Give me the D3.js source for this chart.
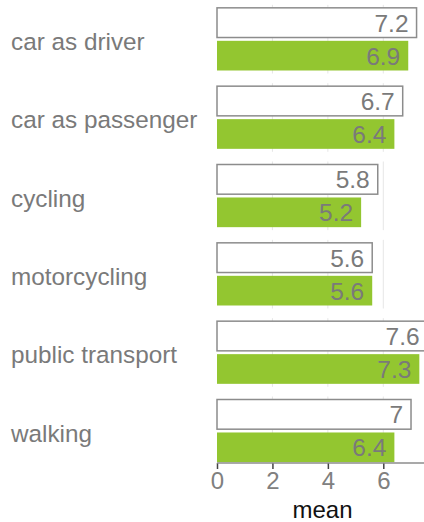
<!DOCTYPE html>
<html>
<head>
<meta charset="utf-8">
<script src="https://cdn.jsdelivr.net/npm/d3@7"></script>
<style>
  body { margin: 0; background: #fff; }
  svg { display: block; font-family: "Liberation Sans", Arial, sans-serif; }
</style>
</head>
<body>
<div id="chart"></div>
<script>
// modes of transport and the two series of means
var categories = ["car as driver", "car as passenger", "cycling", "motorcycling", "public transport", "walking"];
var seriesA = [7.2, 6.7, 5.8, 5.6, 7.6, 7.0];   // white bars (top)
var seriesB = [6.9, 6.4, 5.2, 5.6, 7.3, 6.4];   // green bars (bottom)
var labelsA = ["7.2", "6.7", "5.8", "5.6", "7.6", "7"];
var labelsB = ["6.9", "6.4", "5.2", "5.6", "7.3", "6.4"];
var xTicks = [0, 2, 4, 6];
var axisTitle = "mean";

var width = 424, height = 522;

var svg = d3.select("#chart").append("svg")
    .attr("width", width)
    .attr("height", height);

var x = d3.scaleLinear().domain([0, 6]).range([217, 383.3]);
var y = d3.scaleBand().domain(categories).range([0, 470])
    .paddingInner(0.2).paddingOuter(0.1);
var inner = d3.scaleBand().domain(["a", "b"]).range([0, y.bandwidth()])
    .paddingInner(0.1);

var rows = categories.map(function(c, i) {
  return { cat: c, a: seriesA[i], b: seriesB[i], la: labelsA[i], lb: labelsB[i] };
});

// grid lines per panel
var grid = svg.append("g");
rows.forEach(function(r) {
  grid.selectAll(null).data([2, 4, 6, 8]).enter().append("line")
      .attr("x1", function(d) { return x(d); })
      .attr("x2", function(d) { return x(d); })
      .attr("y1", y(r.cat) - 3)
      .attr("y2", y(r.cat) + y.bandwidth() + 3)
      .attr("stroke", "#e6e6e6")
      .attr("stroke-width", 1);
});

var g = svg.selectAll(".row").data(rows).enter().append("g")
    .attr("transform", function(d) { return "translate(0," + y(d.cat) + ")"; });

g.append("rect")
    .attr("x", x(0))
    .attr("y", inner("a"))
    .attr("width", function(d) { return x(d.a) - x(0); })
    .attr("height", inner.bandwidth())
    .attr("fill", "#fff")
    .attr("stroke", "#8c8c8c")
    .attr("stroke-width", 1.5);

g.append("rect")
    .attr("x", x(0))
    .attr("y", inner("b"))
    .attr("width", function(d) { return x(d.b) - x(0); })
    .attr("height", inner.bandwidth())
    .attr("fill", "#93c630");

g.append("text")
    .attr("x", function(d) { return x(d.a) - 8; })
    .attr("y", inner("a") + inner.bandwidth() / 2 + 9)
    .attr("text-anchor", "end")
    .attr("font-size", 24.5)
    .attr("fill", "#7a7a7a")
    .text(function(d) { return d.la; });

g.append("text")
    .attr("x", function(d) { return x(d.b) - 8; })
    .attr("y", inner("b") + inner.bandwidth() / 2 + 9)
    .attr("text-anchor", "end")
    .attr("font-size", 24.5)
    .attr("fill", "#7a7a7a")
    .text(function(d) { return d.lb; });

// category labels
g.append("text")
    .attr("x", 11)
    .attr("y", y.bandwidth() / 2 + 11)
    .attr("font-size", 24.3)
    .attr("fill", "#7a7a7a")
    .text(function(d) { return d.cat; });

// x axis
var axisY = y.range()[1] - 7;
var axis = svg.append("g")
    .attr("transform", "translate(0," + axisY + ")")
    .call(d3.axisBottom(x).tickValues(xTicks).tickSize(6).tickPadding(3).tickFormat(d3.format("d")));
axis.select(".domain").remove();
axis.append("line")
    .attr("x1", x(0)).attr("x2", width)
    .attr("stroke", "#8c8c8c").attr("stroke-width", 1.5);
axis.selectAll(".tick line").attr("stroke", "#444").attr("stroke-width", 1.5);
axis.selectAll(".tick text")
    .attr("font-size", 24)
    .attr("font-family", "Liberation Sans, Arial, sans-serif")
    .attr("fill", "#808080");

svg.append("text")
    .attr("x", (x(0) + width) / 2 + 2)
    .attr("y", 518)
    .attr("text-anchor", "middle")
    .attr("font-size", 24)
    .attr("fill", "#111")
    .text(axisTitle);
</script>
</body>
</html>
